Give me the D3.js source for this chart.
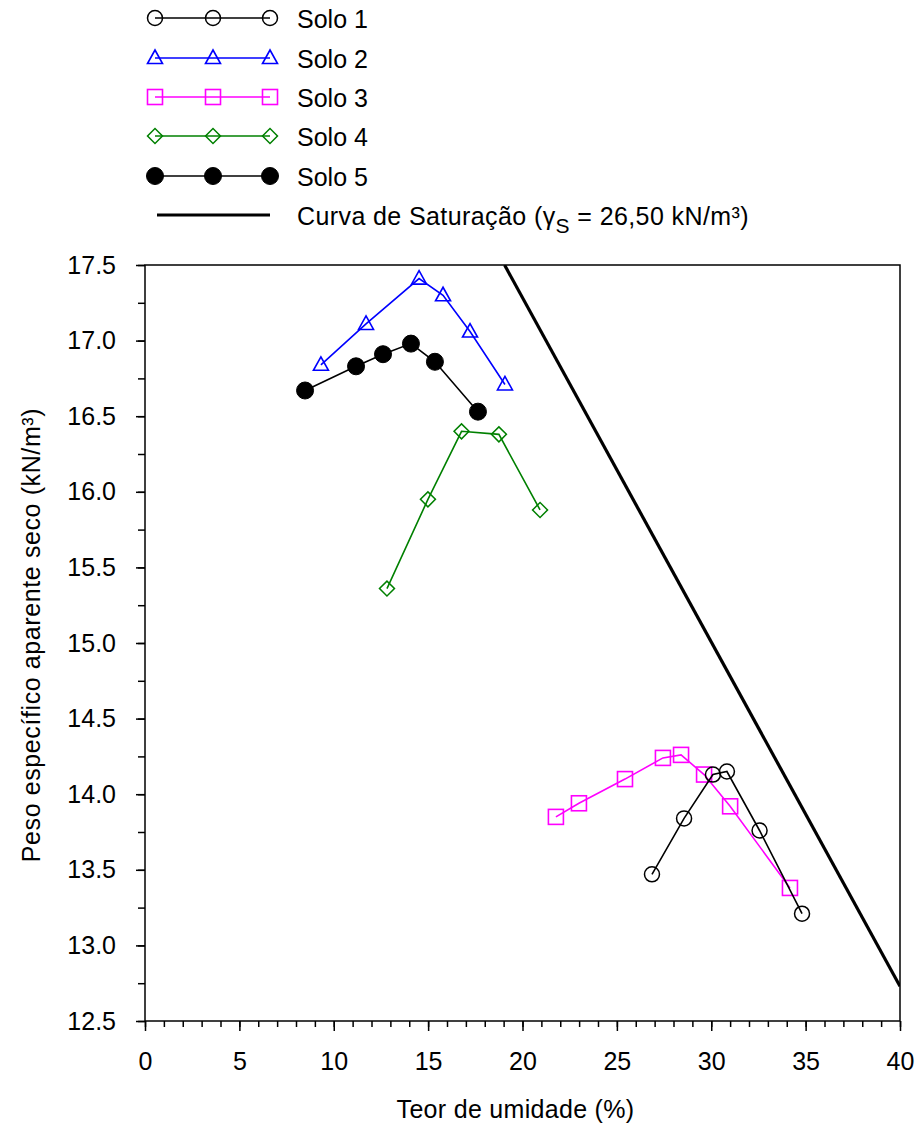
<!DOCTYPE html>
<html>
<head>
<meta charset="utf-8">
<script src="https://cdn.jsdelivr.net/npm/d3@7"></script>
<style>
  body { margin: 0; background: #fff; }
  svg { display: block; font-family: "Liberation Sans", Arial, sans-serif; }
</style>
</head>
<body>
<svg id="chart" width="920" height="1126"></svg>
<script>
// Compaction curves: water content (%) vs dry unit weight (kN/m³)
const solo1W = [26.86, 28.56, 30.09, 30.83, 32.56, 34.81];
const solo1G = [13.47, 13.84, 14.13, 14.15, 13.76, 13.21];

const solo2W = [9.32, 11.71, 14.52, 15.79, 17.22, 19.07];
const solo2G = [16.84, 17.11, 17.41, 17.30, 17.06, 16.71];

const solo3W = [21.77, 22.99, 25.43, 27.44, 28.40, 29.62, 31.00, 34.17];
const solo3G = [13.85, 13.94, 14.10, 14.24, 14.26, 14.13, 13.92, 13.38];

const solo4W = [12.82, 14.99, 16.77, 18.75, 20.93];
const solo4G = [15.36, 15.95, 16.40, 16.38, 15.88];

const solo5W = [8.48, 11.18, 12.61, 14.09, 15.36, 17.64];
const solo5G = [16.67, 16.83, 16.91, 16.98, 16.86, 16.53];

// Saturation line end points (gamma_s = 26.50 kN/m³)
const satW = [19.05, 40];
const satG = [17.50, 12.73];

const xTicks = [0, 5, 10, 15, 20, 25, 30, 35, 40];
const yTicks = [12.5, 13.0, 13.5, 14.0, 14.5, 15.0, 15.5, 16.0, 16.5, 17.0, 17.5];

const seriesNames = ["Solo 1", "Solo 2", "Solo 3", "Solo 4", "Solo 5"];
const satLabel = "Curva de Saturação (";

const FONT = 25;

const zip = (a, b) => a.map((v, i) => [v, b[i]]);
const series = [
  { name: seriesNames[0], pts: zip(solo1W, solo1G), color: "#000000", marker: "circle" },
  { name: seriesNames[1], pts: zip(solo2W, solo2G), color: "#0000ff", marker: "triangle" },
  { name: seriesNames[2], pts: zip(solo3W, solo3G), color: "#ff00ff", marker: "square" },
  { name: seriesNames[3], pts: zip(solo4W, solo4G), color: "#008000", marker: "diamond" },
  { name: seriesNames[4], pts: zip(solo5W, solo5G), color: "#000000", marker: "dot" }
];

const svg = d3.select("#chart");
const L = 145, R = 900, T = 265, B = 1021;

const x = d3.scaleLinear().domain([0, 40]).range([L, R]);
const y = d3.scaleLinear().domain([12.5, 17.5]).range([B, T]);

const clipId = "plotclip";
svg.append("defs").append("clipPath").attr("id", clipId)
  .append("rect").attr("x", L).attr("y", T).attr("width", R - L).attr("height", B - T);

// Frame
svg.append("rect").attr("x", L).attr("y", T).attr("width", R - L).attr("height", B - T)
  .attr("fill", "none").attr("stroke", "#000").attr("stroke-width", 1.5);

// X axis: majors every 5, minors every 1, ticks pointing down
const xAxisG = svg.append("g").attr("transform", `translate(0,${B})`);
xAxisG.call(d3.axisBottom(x).tickValues(d3.range(0, 41, 1)).tickSize(6).tickFormat(""))
  .call(g => g.select(".domain").remove());
xAxisG.append("g").call(d3.axisBottom(x).tickValues(xTicks).tickSize(10).tickPadding(21).tickFormat(d3.format("d")))
  .call(g => g.select(".domain").remove());
xAxisG.selectAll("line").attr("stroke", "#000").attr("stroke-width", 1.5);
xAxisG.selectAll("text").attr("font-size", FONT).attr("fill", "#000")
  .attr("font-family", "'Liberation Sans', Arial, sans-serif");

// Y axis: majors every 0.5, minors every 0.25, ticks pointing left
const yAxisG = svg.append("g").attr("transform", `translate(${L},0)`);
yAxisG.call(d3.axisLeft(y).tickValues(d3.range(12.5, 17.51, 0.25)).tickSize(7).tickFormat(""))
  .call(g => g.select(".domain").remove());
yAxisG.append("g").call(d3.axisLeft(y).tickValues(yTicks).tickSize(9).tickPadding(20).tickFormat(d3.format(".1f")))
  .call(g => g.select(".domain").remove());
yAxisG.selectAll("line").attr("stroke", "#000").attr("stroke-width", 1.5);
yAxisG.selectAll("text").attr("font-size", FONT).attr("fill", "#000")
  .attr("font-family", "'Liberation Sans', Arial, sans-serif");

// Axis titles
svg.append("text").attr("x", (L + R) / 2 - 7).attr("y", 1118).attr("text-anchor", "middle")
  .attr("font-size", FONT).attr("letter-spacing", 0.3).text("Teor de umidade (%)");
svg.append("text").attr("transform", `translate(40,${(T + B) / 2 - 8}) rotate(-90)`)
  .attr("text-anchor", "middle").attr("font-size", FONT).attr("letter-spacing", 0.6)
  .text("Peso específico aparente seco (kN/m³)");

// Saturation line
const line = d3.line().x(d => x(d[0])).y(d => y(d[1]));
svg.append("path").datum(zip(satW, satG)).attr("d", line)
  .attr("fill", "none").attr("stroke", "#000").attr("stroke-width", 3.2)
  .attr("clip-path", `url(#${clipId})`);

// Marker drawing
function drawMarker(g, type, color) {
  if (type === "circle") {
    g.append("circle").attr("r", 7.5).attr("fill", "none").attr("stroke", color).attr("stroke-width", 1.5);
  } else if (type === "dot") {
    g.append("circle").attr("r", 8.5).attr("fill", color).attr("stroke", color).attr("stroke-width", 1);
  } else if (type === "triangle") {
    g.append("path").attr("d", "M0,-8 L7.5,5.5 L-7.5,5.5 Z").attr("fill", "none").attr("stroke", color).attr("stroke-width", 1.6);
  } else if (type === "square") {
    g.append("rect").attr("x", -7.5).attr("y", -7.5).attr("width", 15).attr("height", 15)
      .attr("fill", "none").attr("stroke", color).attr("stroke-width", 1.6);
  } else if (type === "diamond") {
    g.append("rect").attr("x", -5.3).attr("y", -5.3).attr("width", 10.6).attr("height", 10.6)
      .attr("transform", "rotate(45)")
      .attr("fill", "none").attr("stroke", color).attr("stroke-width", 1.5);
  }
}

// Series lines and markers
const order = [3, 4, 1, 2, 0];
order.forEach(i => {
  const s = series[i];
  const g = svg.append("g");
  g.append("path").datum(s.pts).attr("d", line)
    .attr("fill", "none").attr("stroke", s.color).attr("stroke-width", 1.6);
  g.selectAll("g.m").data(s.pts).join("g").attr("class", "m")
    .attr("transform", d => `translate(${x(d[0])},${y(d[1])})`)
    .each(function () { drawMarker(d3.select(this), s.marker, s.color); });
});

// Legend
const legY = [18, 58, 97, 136, 176];
const lg = svg.append("g");
series.forEach((s, i) => {
  const row = lg.append("g").attr("transform", `translate(0,${legY[i]})`);
  row.append("line").attr("x1", 155).attr("x2", 270).attr("stroke", s.color).attr("stroke-width", 1.6);
  [155, 213, 270].forEach(px => {
    const m = row.append("g").attr("transform", `translate(${px},0)`);
    drawMarker(m, s.marker, s.color);
  });
  row.append("text").attr("x", 297).attr("y", 10).attr("font-size", FONT).text(s.name);
});
const satRow = lg.append("g").attr("transform", "translate(0,215)");
satRow.append("line").attr("x1", 157).attr("x2", 270).attr("stroke", "#000").attr("stroke-width", 3.2);
const satText = satRow.append("text").attr("x", 297).attr("y", 10).attr("font-size", FONT)
  .attr("letter-spacing", 0.4);
satText.append("tspan").text(satLabel);
satText.append("tspan").text("γ");
satText.append("tspan").attr("font-size", 21).attr("dy", 8).text("S");
satText.append("tspan").attr("dy", -8).text(" = 26,50 kN/m³)");
</script>
</body>
</html>
